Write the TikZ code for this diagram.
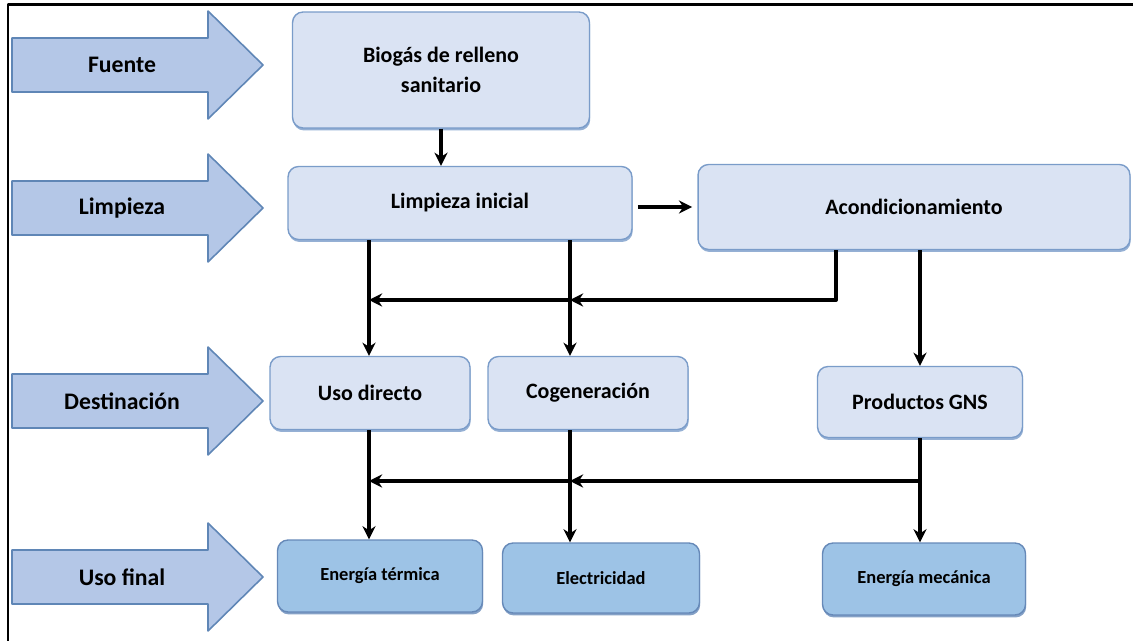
\documentclass[tikz,border=0pt]{standalone}
\usepackage{fontspec}
\setmainfont{Carlito}
\usetikzlibrary{arrows.meta,shadows}
\definecolor{etapafill}{HTML}{B4C7E7}
\definecolor{etapaline}{HTML}{5F86B6}
\definecolor{cajafill}{HTML}{DAE3F3}
\definecolor{cajaline}{HTML}{7A9CC9}
\definecolor{finfill}{HTML}{9DC3E6}
\definecolor{finline}{HTML}{6689B8}
\begin{document}
\begin{tikzpicture}[x=0.02cm,y=-0.02cm,line join=round,>={Stealth[length=7.5pt,width=7.5pt]},
	etapa/.style={fill=etapafill,draw=etapaline,line width=0.9pt},
	etapatext/.style={font=\fontsize{13.5}{16}\selectfont\bfseries},
	cajabase/.style={rectangle,rounded corners=6pt,line width=0.8pt,align=center,inner sep=2pt},
	caja/.style={cajabase,fill=cajafill,draw=cajaline,font=\fontsize{12.5}{17}\selectfont\bfseries,
		drop shadow={shadow xshift=0.4pt,shadow yshift=-1.4pt,fill=cajaline,opacity=0.8}},
	fin/.style={cajabase,fill=finfill,draw=finline,font=\fontsize{10.5}{12}\selectfont\bfseries,
		drop shadow={shadow xshift=0.4pt,shadow yshift=-1.4pt,fill=finline,opacity=0.8}},
	flujo/.style={line width=2.2pt}]
	\useasboundingbox (0,0) rectangle (1133,641);
	\draw[line width=1.7pt] (8,641) -- (8,5) -- (1133,5);
	% flechas de etapa
	\foreach \y/\n/\t in {65/fuente/Fuente, 208/limpieza/Limpieza, 401/destino/Destinación, 577/usofinal/Uso final}{
		\draw[etapa] (12,\y-27) -- (208,\y-27) -- (208,\y-54) -- (263,\y) -- (208,\y+54) -- (208,\y+27) -- (12,\y+27) -- cycle;
		\node[etapatext] (\n) at (122,\y) {\t};
	}
	% cajas
	\node[caja,minimum width=5.94cm,minimum height=2.32cm] (bio) at (441,70) {Biogás de relleno\\sanitario};
	\node[caja,minimum width=6.88cm,minimum height=1.46cm] (limp) at (460,203) {Limpieza inicial};
	\node[caja,minimum width=8.64cm,minimum height=1.7cm] (acond) at (914,207) {Acondicionamiento};
	\node[caja,minimum width=4cm,minimum height=1.46cm] (uso) at (370,393) {Uso directo};
	\node[caja,minimum width=4cm,minimum height=1.46cm] (cog) at (588,393) {Cogeneración};
	\node[caja,minimum width=4.1cm,minimum height=1.42cm] (gns) at (920,402) {Productos GNS};
	\node[fin,minimum width=4.1cm,minimum height=1.44cm] (term) at (380,576) {Energía térmica};
	\node[fin,minimum width=3.94cm,minimum height=1.4cm] (elec) at (601,578) {Electricidad};
	\node[fin,minimum width=4.06cm,minimum height=1.44cm] (mec) at (924,579) {Energía mecánica};
	% ejes de las lineas
	\coordinate (colA) at (369,0);
	\coordinate (colB) at (570,0);
	\coordinate (codo) at (836,300);
	\coordinate (ramal) at (920,481);
	% conexiones
	\draw[flujo,->] (bio.south) -- (bio.south |- limp.north);
	\draw[flujo,->,shorten <=3pt,shorten >=3pt] (limp.east |- acond) -- (acond.west);
	\draw[flujo,->] (colA |- limp.south) -- (colA |- uso.north);
	\draw[flujo,->] (colB |- limp.south) -- (colB |- cog.north);
	\draw[flujo,->] (codo |- acond.south) -- (codo) -- (colB |- codo);
	\draw[flujo,->] (colB |- codo) -- (colA |- codo);
	\draw[flujo,->] (gns.north |- acond.south) -- (gns.north);
	\draw[flujo,->] (colA |- uso.south) -- (colA |- term.north);
	\draw[flujo,->] (colB |- cog.south) -- (colB |- elec.north);
	\draw[flujo,->] (gns.south) -- (gns.south |- mec.north);
	\draw[flujo,->] (ramal) -- (colB |- ramal);
	\draw[flujo,->] (colB |- ramal) -- (colA |- ramal);
\end{tikzpicture}
\end{document}
